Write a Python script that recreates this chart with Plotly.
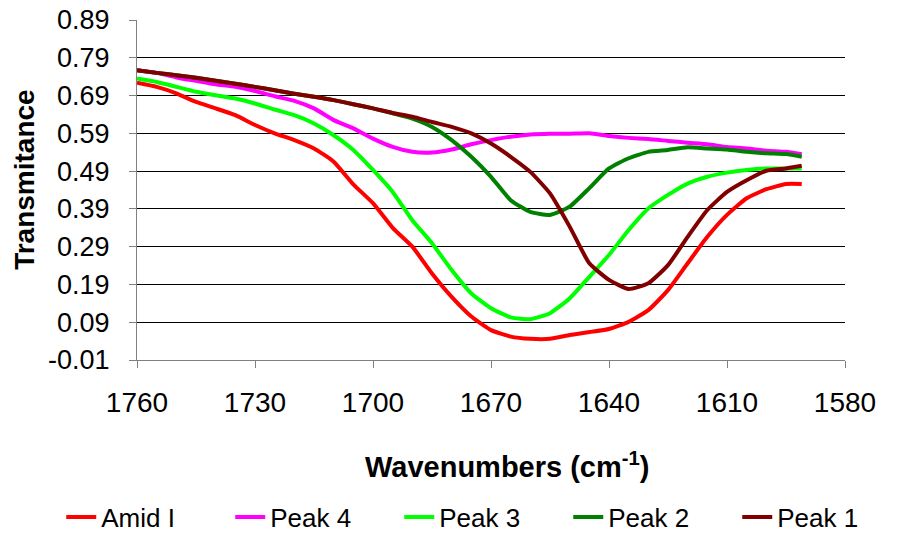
import plotly.graph_objects as go

wavenumber = [1760, 1755, 1750, 1745, 1740, 1735, 1730, 1725, 1720, 1715, 1710, 1705,
              1700, 1695, 1690, 1685, 1680, 1675, 1670, 1665, 1660, 1655, 1650, 1645,
              1640, 1635, 1630, 1625, 1620, 1615, 1610, 1605, 1600, 1595, 1591]

amid_i = [0.724, 0.713, 0.696, 0.673, 0.656, 0.638, 0.612, 0.590, 0.572, 0.550, 0.515, 0.455,
          0.405, 0.340, 0.290, 0.219, 0.157, 0.105, 0.069, 0.052, 0.046, 0.046, 0.056, 0.064,
          0.072, 0.091, 0.122, 0.175, 0.246, 0.316, 0.374, 0.418, 0.442, 0.456, 0.456]

peak_4 = [0.757, 0.750, 0.738, 0.729, 0.720, 0.713, 0.702, 0.688, 0.676, 0.656, 0.625, 0.603,
          0.576, 0.554, 0.541, 0.539, 0.547, 0.561, 0.572, 0.581, 0.587, 0.589, 0.589, 0.590,
          0.583, 0.578, 0.575, 0.570, 0.565, 0.561, 0.554, 0.550, 0.544, 0.541, 0.535]

peak_3 = [0.735, 0.726, 0.713, 0.700, 0.691, 0.682, 0.669, 0.653, 0.638, 0.616, 0.585, 0.546,
          0.493, 0.435, 0.360, 0.299, 0.228, 0.166, 0.127, 0.103, 0.098, 0.114, 0.153, 0.210,
          0.268, 0.334, 0.391, 0.427, 0.457, 0.475, 0.486, 0.493, 0.497, 0.497, 0.497]

peak_2 = [0.757, 0.750, 0.744, 0.737, 0.729, 0.721, 0.713, 0.704, 0.695, 0.687, 0.678, 0.667,
          0.656, 0.643, 0.629, 0.607, 0.572, 0.528, 0.475, 0.413, 0.382, 0.374, 0.396, 0.445,
          0.497, 0.524, 0.541, 0.546, 0.553, 0.550, 0.547, 0.541, 0.537, 0.535, 0.528]

peak_1 = [0.757, 0.750, 0.744, 0.737, 0.729, 0.721, 0.713, 0.704, 0.695, 0.687, 0.678, 0.667,
          0.656, 0.644, 0.634, 0.620, 0.607, 0.590, 0.563, 0.528, 0.488, 0.431, 0.343, 0.246,
          0.202, 0.178, 0.193, 0.241, 0.316, 0.387, 0.435, 0.466, 0.491, 0.497, 0.504]

series_names = ["Amid I", "Peak 4", "Peak 3", "Peak 2", "Peak 1"]
series_values = [amid_i, peak_4, peak_3, peak_2, peak_1]
series_colors = ["#FF0000", "#FF00FF", "#00FF00", "#008000", "#800000"]

x_ticks = [1760, 1730, 1700, 1670, 1640, 1610, 1580]
y_ticks = [-0.01, 0.09, 0.19, 0.29, 0.39, 0.49, 0.59, 0.69, 0.79, 0.89]

FONT = "Liberation Sans, Arial, sans-serif"

fig = go.Figure()
for name, vals, col in zip(series_names, series_values, series_colors):
    fig.add_trace(go.Scatter(x=wavenumber, y=vals, name=name, mode="lines",
                             line=dict(color=col, width=4, shape="spline", smoothing=0.5)))

fig.update_layout(
    width=899, height=535,
    margin=dict(l=137, r=54, t=20, b=175, autoexpand=False),
    paper_bgcolor="white", plot_bgcolor="white",
    font=dict(family=FONT, color="black"),
    showlegend=True,
    legend=dict(orientation="h", x=-0.107, y=-0.462, xanchor="left", yanchor="middle",
                font=dict(size=26, family=FONT), entrywidth=124, entrywidthmode="pixels",
                itemwidth=30, bgcolor="rgba(0,0,0,0)", traceorder="normal"),
    xaxis=dict(range=[1760, 1580], autorange=False, tickmode="array", tickvals=x_ticks,
               ticktext=[str(v) for v in x_ticks], showgrid=False, zeroline=False,
               showline=True, linecolor="#808080", linewidth=1, automargin=False,
               ticks="outside", ticklen=7, tickcolor="#808080",
               tickfont=dict(size=28, family=FONT), ticklabelstandoff=10),
    yaxis=dict(range=[-0.01, 0.89], autorange=False, tickmode="array", tickvals=y_ticks,
               ticktext=["%.2f" % v for v in y_ticks], showgrid=True, gridcolor="#000000",
               gridwidth=1, zeroline=False, showline=True, linecolor="#808080", linewidth=1,
               ticks="outside", ticklen=7, tickcolor="#808080", automargin=False,
               tickfont=dict(size=27, family=FONT), ticklabelstandoff=14),
    annotations=[
        dict(text="<b>Wavenumbers (cm<sup>-1</sup>)</b>", xref="paper", yref="paper",
             x=0.524, y=-0.31, xanchor="center", yanchor="middle", showarrow=False,
             font=dict(size=29, family=FONT)),
        dict(text="<b>Transmitance</b>", xref="paper", yref="paper", textangle=-90,
             x=-0.16, y=0.532, xanchor="center", yanchor="middle", showarrow=False,
             font=dict(size=28, family=FONT)),
    ],
)

fig.write_html("out.html", config={"displayModeBar": False},
               post_script="document.body.style.margin='0px';document.body.style.overflow='hidden';")
